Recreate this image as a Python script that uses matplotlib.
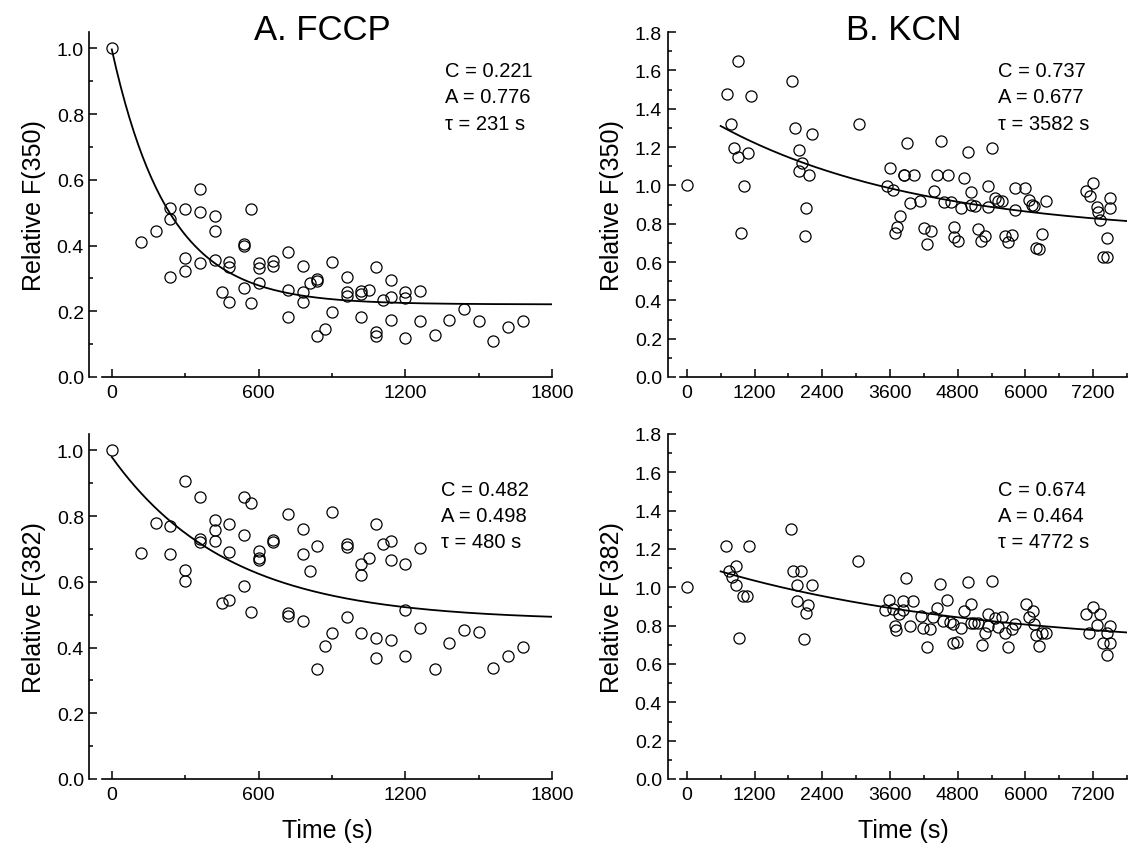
import numpy as np
import matplotlib
matplotlib.use("Agg")
from matplotlib import pyplot as plt
from matplotlib.ticker import MultipleLocator

plt.rcParams['font.family'] = ['Liberation Sans', 'DejaVu Sans']

# A. FCCP, F(350)
fccp_t_350 = [0, 120, 180, 240, 240, 240, 300, 300, 300, 360, 360, 360, 420, 420, 420, 450,
              480, 480, 480, 540, 540, 540, 570, 570, 600, 600, 600, 660, 660, 720, 720, 720,
              780, 780, 780, 810, 840, 840, 840, 870, 900, 900, 960, 960, 960, 1020, 1020, 1020,
              1050, 1080, 1080, 1080, 1110, 1140, 1140, 1140, 1200, 1200, 1200, 1260, 1260,
              1320, 1380, 1440, 1500, 1560, 1620, 1680]
fccp_f_350 = [1.0, 0.412, 0.444, 0.515, 0.48, 0.303, 0.512, 0.362, 0.324, 0.573, 0.502, 0.347,
              0.489, 0.444, 0.357, 0.258, 0.35, 0.334, 0.228, 0.405, 0.40, 0.27, 0.512, 0.226,
              0.347, 0.331, 0.286, 0.354, 0.338, 0.38, 0.266, 0.184, 0.339, 0.258, 0.228, 0.286,
              0.299, 0.291, 0.126, 0.146, 0.35, 0.197, 0.303, 0.258, 0.248, 0.263, 0.253, 0.182,
              0.265, 0.334, 0.136, 0.126, 0.233, 0.294, 0.243, 0.175, 0.26, 0.24, 0.119, 0.262,
              0.17, 0.128, 0.172, 0.207, 0.17, 0.111, 0.153, 0.17]

# A. FCCP, F(382)
fccp_t_382 = [0, 120, 180, 240, 240, 300, 300, 300, 360, 360, 360, 420, 420, 420, 450, 480, 480,
              480, 540, 540, 540, 570, 570, 600, 600, 600, 660, 660, 720, 720, 720, 780, 780, 780,
              810, 840, 840, 870, 900, 900, 960, 960, 960, 1020, 1020, 1020, 1050, 1080, 1080,
              1080, 1110, 1140, 1140, 1140, 1200, 1200, 1200, 1260, 1260, 1320, 1380, 1440, 1500,
              1560, 1620, 1680]
fccp_f_382 = [1.0, 0.689, 0.778, 0.77, 0.686, 0.907, 0.637, 0.603, 0.859, 0.729, 0.721, 0.788,
              0.757, 0.724, 0.537, 0.775, 0.692, 0.544, 0.859, 0.743, 0.588, 0.839, 0.507, 0.694,
              0.674, 0.667, 0.726, 0.722, 0.807, 0.504, 0.496, 0.76, 0.686, 0.481, 0.633, 0.709,
              0.336, 0.405, 0.814, 0.444, 0.714, 0.707, 0.493, 0.653, 0.62, 0.444, 0.672, 0.775,
              0.428, 0.367, 0.714, 0.724, 0.667, 0.422, 0.653, 0.514, 0.373, 0.702, 0.461, 0.336,
              0.415, 0.454, 0.446, 0.337, 0.373, 0.403]

# B. KCN, F(350)
kcn_t_350 = [0, 720, 780, 840, 900, 900, 960, 1020, 1080, 1140, 1860, 1920, 1980, 1980, 2040,
             2100, 2120, 2160, 2220, 3060, 3540, 3600, 3660, 3690, 3720, 3780, 3840, 3850, 3900,
             3960, 4020, 4140, 4200, 4260, 4320, 4380, 4440, 4500, 4560, 4620, 4680, 4740, 4740,
             4800, 4860, 4920, 4980, 5040, 5040, 5100, 5160, 5220, 5280, 5340, 5340, 5400, 5460,
             5520, 5580, 5640, 5700, 5760, 5820, 5820, 6000, 6060, 6120, 6150, 6180, 6240, 6300,
             6360, 7080, 7140, 7200, 7260, 7290, 7320, 7380, 7440, 7440, 7500, 7500]
kcn_f_350 = [1.0, 1.476, 1.32, 1.195, 1.647, 1.149, 0.751, 0.998, 1.169, 1.468, 1.544, 1.299,
             1.184, 1.073, 1.115, 0.736, 0.883, 1.055, 1.266, 1.318, 0.998, 1.089, 0.977, 0.751,
             0.784, 0.842, 1.054, 1.054, 1.219, 0.906, 1.054, 0.92, 0.779, 0.694, 0.76, 0.972,
             1.054, 1.23, 0.911, 1.054, 0.911, 0.784, 0.732, 0.708, 0.883, 1.038, 1.175, 0.963,
             0.897, 0.89, 0.772, 0.708, 0.737, 0.998, 0.885, 1.196, 0.932, 0.92, 0.92, 0.737,
             0.703, 0.742, 0.984, 0.871, 0.984, 0.923, 0.899, 0.894, 0.671, 0.668, 0.746, 0.92,
             0.969, 0.946, 1.01, 0.885, 0.859, 0.821, 0.624, 0.624, 0.724, 0.934, 0.883]

# B. KCN, F(382)
kcn_t_382 = [0, 690, 750, 810, 870, 870, 930, 1000, 1060, 1100, 1840, 1885, 1960, 1960, 2020,
             2075, 2110, 2140, 2210, 3040, 3520, 3590, 3660, 3690, 3705, 3765, 3835, 3835, 3885,
             3955, 4015, 4145, 4190, 4250, 4310, 4365, 4425, 4495, 4545, 4615, 4665, 4720, 4720,
             4780, 4860, 4910, 4975, 5035, 5035, 5095, 5155, 5225, 5285, 5340, 5340, 5400, 5460,
             5520, 5580, 5640, 5700, 5755, 5815, 6005, 6065, 6130, 6155, 6180, 6240, 6300, 6360,
             7075, 7135, 7205, 7265, 7325, 7370, 7440, 7440, 7500, 7500]
kcn_f_382 = [1.0, 1.214, 1.087, 1.052, 1.11, 1.012, 0.734, 0.956, 0.956, 1.214, 1.304, 1.087,
             1.012, 0.929, 1.087, 0.73, 0.866, 0.908, 1.012, 1.139, 0.882, 0.934, 0.887, 0.797,
             0.779, 0.861, 0.927, 0.882, 1.047, 0.797, 0.927, 0.852, 0.789, 0.69, 0.781, 0.847,
             0.892, 1.017, 0.826, 0.934, 0.817, 0.808, 0.708, 0.717, 0.786, 0.877, 1.03, 0.911,
             0.812, 0.812, 0.812, 0.701, 0.762, 0.86, 0.797, 1.035, 0.84, 0.795, 0.843, 0.763,
             0.687, 0.781, 0.807, 0.913, 0.847, 0.877, 0.808, 0.751, 0.696, 0.763, 0.763, 0.86,
             0.763, 0.896, 0.803, 0.861, 0.71, 0.763, 0.645, 0.797, 0.71]

# fit parameters (C, A, tau) as printed on the chart
fit_fccp_350 = (0.221, 0.776, 231)
fit_fccp_382 = (0.482, 0.498, 480)
fit_kcn_350 = (0.737, 0.677, 3582)
fit_kcn_382 = (0.674, 0.464, 4772)

fig = plt.figure(figsize=(11.29, 8.53), dpi=100)

W, H = 1129.0, 853.0


def make_axes(left_px, right_px, top_px, bottom_px):
    return fig.add_axes([left_px / W, 1 - bottom_px / H,
                         (right_px - left_px) / W, (bottom_px - top_px) / H])


def style(ax, xlim, ylim, xmaj, xmin, ymaj, ymin, ylabel, xlabel=None):
    ax.set_xlim(*xlim)
    ax.set_ylim(*ylim)
    ax.spines['top'].set_visible(False)
    ax.spines['right'].set_visible(False)
    ax.spines['left'].set_position(('outward', 9))
    for s in ['left', 'bottom']:
        ax.spines[s].set_linewidth(1.2)
    ax.xaxis.set_major_locator(MultipleLocator(xmaj))
    ax.xaxis.set_minor_locator(MultipleLocator(xmin))
    ax.yaxis.set_major_locator(MultipleLocator(ymaj))
    ax.yaxis.set_minor_locator(MultipleLocator(ymin))
    ax.tick_params(which='both', direction='in', labelsize=14, width=1.1)
    ax.tick_params(which='major', length=5.5)
    ax.tick_params(which='minor', length=3)
    ax.tick_params(axis='x', pad=5)
    ax.tick_params(axis='y', pad=4)
    ax.yaxis.set_major_formatter(matplotlib.ticker.FormatStrFormatter('%.1f'))
    ax.set_ylabel(ylabel, fontsize=18, labelpad=8)
    if xlabel:
        ax.set_xlabel(xlabel, fontsize=18, labelpad=11)


def draw(ax, t, f, fit, t0, t1, lines, tx, tys):
    ax.plot(t, f, linestyle='none', marker='o', markersize=8, markerfacecolor='none',
            markeredgecolor='black', markeredgewidth=0.9, clip_on=False)
    c, a, tau = fit
    tt = np.linspace(t0, t1, 300)
    ax.plot(tt, c + a * np.exp(-tt / tau), color='black', lw=1.3)
    for line, ty in zip(lines, tys):
        ax.text(tx, ty, line, transform=ax.transAxes, fontsize=14.5, va='baseline', ha='left')


def labels(fit):
    c, a, tau = fit
    return ['C = %.3f' % c, 'A = %.3f' % a, '\u03c4 = %d s' % tau]


ax1 = make_axes(102, 552, 33, 378)
ax2 = make_axes(680, 1127, 33, 378)
ax3 = make_axes(102, 552, 435, 780)
ax4 = make_axes(680, 1127, 435, 780)

style(ax1, (-40, 1800), (0, 1.05), 600, 300, 0.2, 0.1, 'Relative F(350)')
style(ax3, (-40, 1800), (0, 1.05), 600, 300, 0.2, 0.1, 'Relative F(382)', 'Time (s)')
style(ax2, (-120, 7800), (0, 1.8), 1200, 600, 0.2, 0.1, 'Relative F(350)')
style(ax4, (-120, 7800), (0, 1.8), 1200, 600, 0.2, 0.1, 'Relative F(382)', 'Time (s)')

draw(ax1, fccp_t_350, fccp_f_350, fit_fccp_350, 0, 1800, labels(fit_fccp_350),
     0.762, [0.8725, 0.797, 0.719])
draw(ax3, fccp_t_382, fccp_f_382, fit_fccp_382, 0, 1800, labels(fit_fccp_382),
     0.753, [0.823, 0.749, 0.672])
draw(ax2, kcn_t_350, kcn_f_350, fit_kcn_350, 600, 7800, labels(fit_kcn_350),
     0.711, [0.8725, 0.797, 0.719])
draw(ax4, kcn_t_382, kcn_f_382, fit_kcn_382, 600, 7800, labels(fit_kcn_382),
     0.711, [0.823, 0.749, 0.672])

ax1.text(0.49, 0.98, 'A. FCCP', transform=ax1.transAxes, fontsize=25, ha='center', va='baseline')
ax2.text(0.5, 0.98, 'B. KCN', transform=ax2.transAxes, fontsize=25, ha='center', va='baseline')

fig.savefig('out.png', dpi=100)
